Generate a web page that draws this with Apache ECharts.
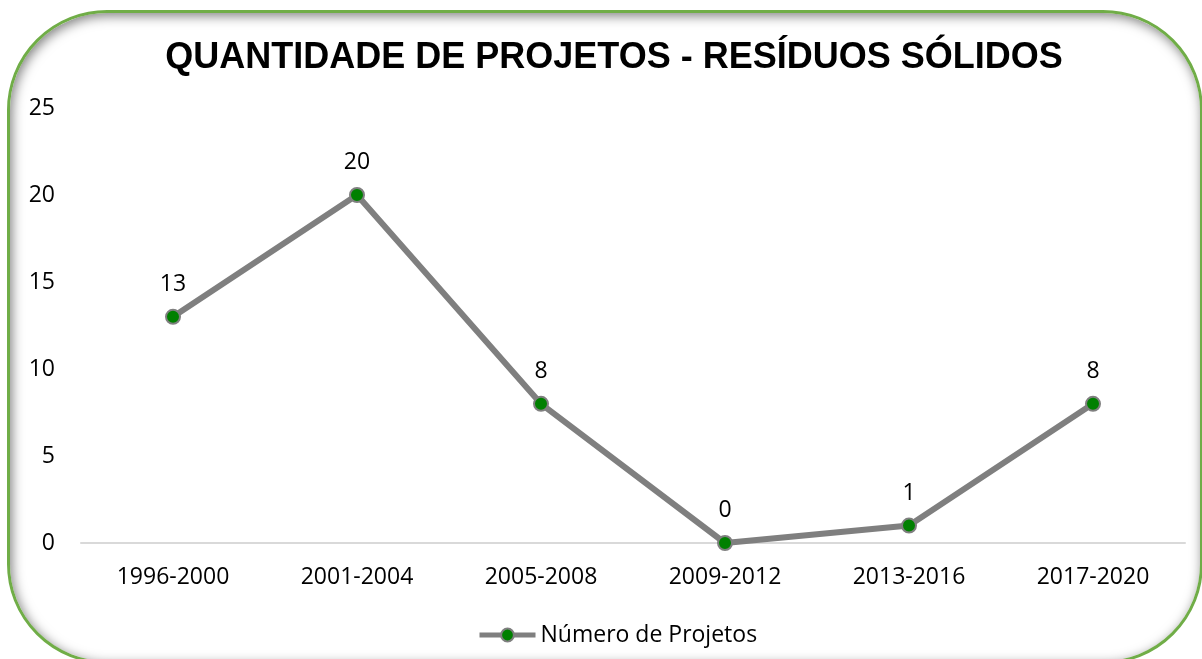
<!DOCTYPE html>
<html>
<head>
<meta charset="utf-8">
<script src="https://cdn.jsdelivr.net/npm/echarts@6/dist/echarts.min.js"></script>
<style>
  html, body { margin: 0; padding: 0; background: #fff; overflow: hidden; }
  #frame {
    position: absolute; left: 7px; top: 10px; width: 1196px; height: 654px;
    box-sizing: border-box; border: 3px solid #70ad47; border-radius: 100px;
    box-shadow: inset 2px 3px 12px rgba(0, 0, 0, 0.5);
  }
  #chart { position: absolute; left: 0; top: 0; width: 1202px; height: 659px; }
</style>
</head>
<body>
<div id="frame"></div>
<div id="chart"></div>
<script>
const periods = ["1996-2000", "2001-2004", "2005-2008", "2009-2012", "2013-2016", "2017-2020"];
const projectCounts = [13, 20, 8, 0, 1, 8];
const seriesName = "Número de Projetos";

const textFont = "'Open Sans', sans-serif";
const chart = echarts.init(document.getElementById("chart"));

chart.setOption({
  animation: false,
  title: {
    text: "QUANTIDADE DE PROJETOS - RESÍDUOS SÓLIDOS",
    left: 609,
    top: 35,
    textAlign: "center",
    textStyle: { fontFamily: "'Liberation Sans', Arial, sans-serif", fontWeight: "bold", fontSize: 36, color: "#000" },
  },
  legend: {
    left: 477,
    top: 623,
    padding: 0,
    itemWidth: 56,
    itemHeight: 16,
    lineStyle: { width: 5, color: "#7f7f7f" },
    textStyle: { fontFamily: textFont, fontSize: 23, color: "#000", lineHeight: 24 },
    data: [seriesName],
  },
  grid: { left: 81, right: 17, top: 108, bottom: 116 },
  xAxis: {
    type: "category",
    data: periods,
    boundaryGap: true,
    axisLine: { lineStyle: { color: "#d9d9d9", width: 2 } },
    axisTick: { show: false },
    axisLabel: { fontFamily: textFont, fontSize: 23, color: "#000", margin: 23 },
  },
  yAxis: {
    type: "value",
    min: 0,
    max: 25,
    interval: 5,
    axisLine: { show: false },
    axisTick: { show: false },
    splitLine: { show: false },
    axisLabel: { fontFamily: textFont, fontSize: 23, color: "#000", margin: 26 },
  },
  series: [{
    name: seriesName,
    type: "line",
    data: projectCounts,
    symbol: "circle",
    symbolSize: 14,
    lineStyle: { color: "#7f7f7f", width: 6 },
    itemStyle: { color: "#008000", borderColor: "#7f7f7f", borderWidth: 2 },
    label: { show: true, position: "top", distance: 13, fontFamily: textFont, fontSize: 23, color: "#000" },
  }],
});
</script>
</body>
</html>
